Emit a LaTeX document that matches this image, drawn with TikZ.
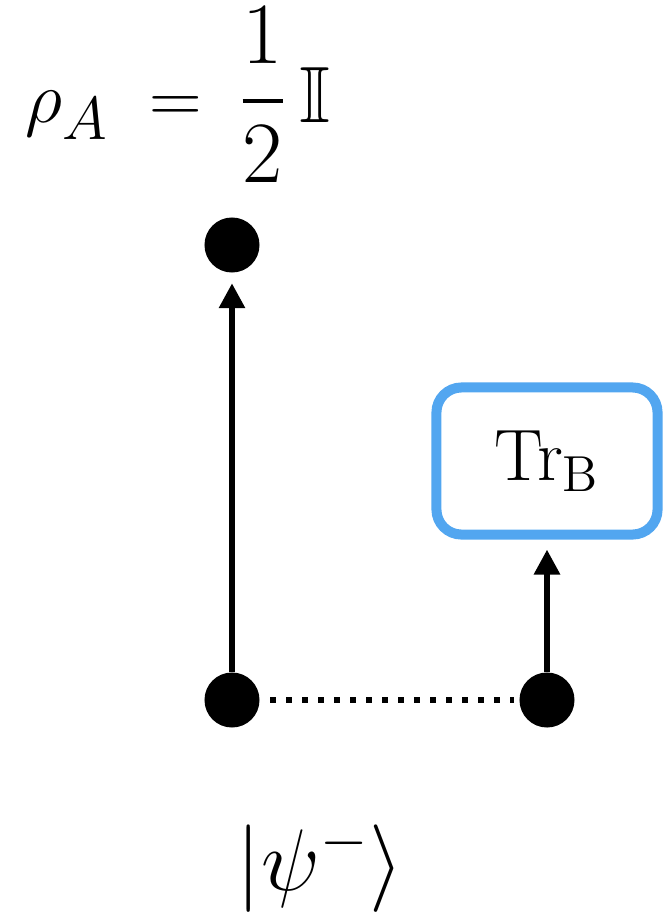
\documentclass[tikz,border=0pt]{standalone}
\usepackage{amssymb}
\usetikzlibrary{arrows.meta, positioning}

\definecolor{traceblue}{RGB}{82,166,240}

\begin{document}
\begin{tikzpicture}[x=0.01cm, y=-0.01cm]

\tikzset{
  qubit/.style={circle, fill=black, minimum size=5.5mm, inner sep=0pt},
  trace/.style={rectangle, draw=traceblue, line width=1mm, rounded corners=2.5mm,
                minimum width=22.1mm, minimum height=14.7mm, font=\fontsize{20.5}{24}\selectfont},
  wire/.style={line width=0.6mm, -{Triangle[width=2.5mm, length=2.5mm]}, shorten >=1mm},
  entangle/.style={line width=0.6mm, dash pattern=on 0.6mm off 1mm, shorten <=1mm, shorten >=0.5mm},
  label/.style={font=\fontsize{22.7}{27}\selectfont, inner sep=0pt}
}

\useasboundingbox (0,0) rectangle (666,915);

% --- Qubits ---
\node[qubit] (outA) at (232,245) {};
\node[qubit] (psiA) at (232,700) {};
\node[qubit] (psiB) at (547,700) {};

% --- Partielle Spur auf B ---
\node[trace] (trB) at (547,461) {$\mathrm{Tr}_{\mathrm{B}}$};

% --- Kanten ---
\draw[wire] (psiA) -- (outA);
\draw[wire] (psiB) -- (trB);
\draw[entangle] (psiA) -- (psiB);

% --- Beschriftungen ---
\node[label, anchor=west] (rhoA) at (25,95)
  {$\displaystyle \rho_A \;=\: \mbox{\fontsize{24}{29}\selectfont$\displaystyle\frac{1}{2}$}\,\mathbb{I}$};
\node[label, font=\fontsize{26.5}{30}\selectfont] (ket) at (320,868) {$|\psi^-\rangle$};

\end{tikzpicture}
\end{document}
